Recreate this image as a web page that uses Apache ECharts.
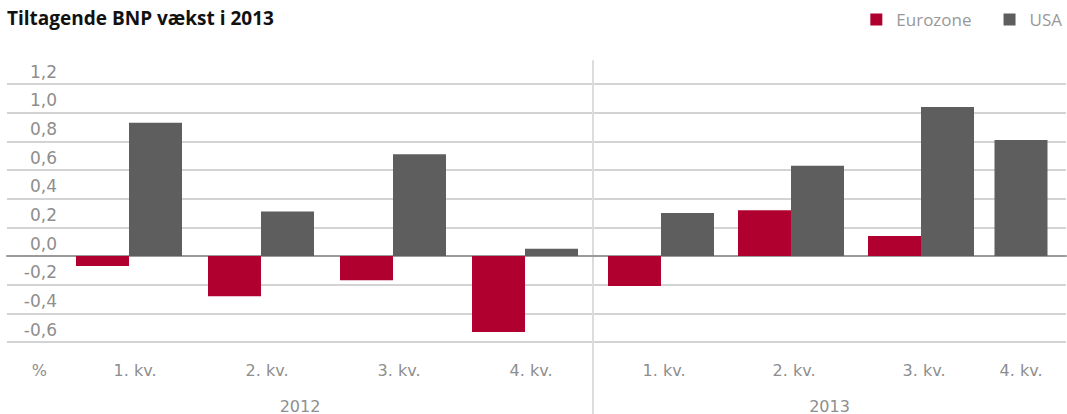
<!DOCTYPE html>
<html>
<head>
<meta charset="utf-8">
<script src="https://cdn.jsdelivr.net/npm/echarts@6/dist/echarts.min.js"></script>
<style>
  html, body { margin: 0; padding: 0; background: #fff; }
  #chart { width: 1067px; height: 414px; }
</style>
</head>
<body>
<div id="chart"></div>
<script>
var chartDom = document.getElementById("chart");
var chart = echarts.init(chartDom, null, {renderer: "svg"});

// data
var quarters = ["1. kv.", "2. kv.", "3. kv.", "4. kv."];
var years = ["2012", "2013"];
var euro2012 = [-0.07, -0.28, -0.17, -0.53];
var usa2012 = [0.93, 0.31, 0.71, 0.05];
var euro2013 = [-0.21, 0.32, 0.14, null];
var usa2013 = [0.30, 0.63, 1.04, 0.81];

var RED = "#b0002f";
var GREY = "#5e5e5e";
var LABEL = "#8e8e8e";
var FONT = "DejaVu Sans";

var yMin = -0.6, yMax = 1.2;
var plotTop = 84, plotBottom = 72;

function hiddenY(gridIndex) {
  return {
    type: "value", gridIndex: gridIndex, min: yMin, max: yMax, interval: 0.2,
    show: false, splitLine: {show: false}
  };
}

function quarterX(gridIndex, cats, shift) {
  return {
    type: "category", gridIndex: gridIndex, data: cats,
    axisLine: {show: false}, axisTick: {show: false},
    axisLabel: {
      color: LABEL, fontFamily: FONT, fontSize: 16, margin: 20,
      padding: [0, 0, 0, shift]
    }
  };
}

function bar(name, color, xi, yi, values) {
  return {
    name: name, type: "bar", xAxisIndex: xi, yAxisIndex: yi,
    data: values, barWidth: 53, barGap: "0%",
    itemStyle: {color: color}, animation: false
  };
}

chart.setOption({
  animation: false,
  title: {
    text: "Tiltagende BNP vækst i 2013",
    left: 2, top: 3,
    textStyle: {fontFamily: "Open Sans", fontWeight: "bold", fontSize: 19, color: "#111"}
  },
  legend: {
    right: 0, top: 6,
    icon: "rect", itemWidth: 12, itemHeight: 12, itemGap: 32,
    data: ["Eurozone", "USA"],
    textStyle: {fontFamily: "Open Sans", fontSize: 17, color: "#999", padding: [0, 0, 0, 9]}
  },
  grid: [
    // background grid with gridlines and y labels
    {left: 7, right: 1, top: plotTop, bottom: plotBottom},
    // 2012 quarters
    {left: 63, width: 528, top: plotTop, bottom: plotBottom},
    // 2013 quarters 1-3
    {left: 596, width: 390, top: plotTop, bottom: plotBottom},
    // 2013 quarter 4 (only USA)
    {left: 981, width: 80, top: plotTop, bottom: plotBottom},
    // year label grids
    {left: 7, width: 586, top: 61, bottom: 0},
    {left: 593, right: 1, top: 61, bottom: 0}
  ],
  xAxis: [
    {
      type: "category", gridIndex: 0, data: [""],
      axisLine: {onZero: true, lineStyle: {color: "#9a9a9a", width: 2}},
      axisTick: {show: false}, axisLabel: {show: false}
    },
    quarterX(1, quarters, 12),
    quarterX(2, quarters.slice(0, 3), 6),
    quarterX(3, quarters.slice(3), 0),
    {
      type: "category", gridIndex: 4, data: [years[0]],
      axisLine: {show: false}, axisTick: {show: false},
      axisLabel: {inside: true, margin: 0, color: LABEL, fontFamily: FONT, fontSize: 16}
    },
    {
      type: "category", gridIndex: 5, data: [years[1]],
      axisLine: {show: false}, axisTick: {show: false},
      axisLabel: {inside: true, margin: 0, color: LABEL, fontFamily: FONT, fontSize: 16}
    }
  ],
  yAxis: [
    {
      type: "value", gridIndex: 0, min: yMin, max: yMax, interval: 0.2,
      offset: -50,
      axisLine: {show: false}, axisTick: {show: false},
      splitLine: {lineStyle: {color: "#d3d3d3", width: 2}},
      axisLabel: {
        margin: 0, color: LABEL, fontFamily: FONT, fontSize: 17,
        verticalAlign: "bottom", padding: [0, 0, 4, 0],
        formatter: function (v) {
          return (Math.round(v * 10) / 10).toFixed(1).replace(".", ",");
        }
      },
      name: "%", nameLocation: "start", nameGap: 20,
      nameTextStyle: {color: LABEL, fontFamily: FONT, fontSize: 16, align: "right", padding: [0, 10, 0, 0]}
    },
    hiddenY(1),
    hiddenY(2),
    hiddenY(3),
    {type: "value", gridIndex: 4, show: false, splitLine: {show: false}},
    {
      type: "value", gridIndex: 5, splitLine: {show: false},
      axisLine: {show: true, lineStyle: {color: "#dcdcdc", width: 2}},
      axisTick: {show: false}, axisLabel: {show: false}
    }
  ],
  series: [
    bar("Eurozone", RED, 1, 1, euro2012),
    bar("USA", GREY, 1, 1, usa2012),
    bar("Eurozone", RED, 2, 2, euro2013.slice(0, 3)),
    bar("USA", GREY, 2, 2, usa2013.slice(0, 3)),
    bar("USA", GREY, 3, 3, usa2013.slice(3))
  ]
});
</script>
</body>
</html>
